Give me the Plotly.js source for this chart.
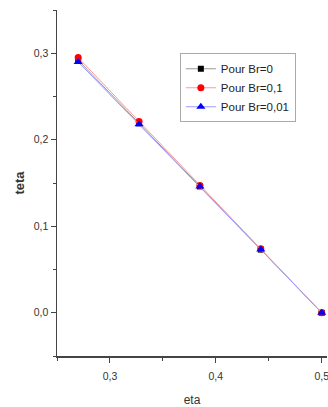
<!DOCTYPE html>
<html><head><meta charset="utf-8">
<script src="https://cdn.plot.ly/plotly-3.0.1.min.js"></script>
<style>html,body{margin:0;padding:0;background:#fff}#c{width:328px;height:407px}</style>
</head><body><div id="c"></div>
<script>
const eta = [0.27, 0.3275, 0.385, 0.4425, 0.5];
const tetaBr0 = [0.292, 0.219, 0.146, 0.073, 0.0];
const tetaBr01 = [0.295, 0.221, 0.147, 0.074, 0.0];
const tetaBr001 = [0.290, 0.218, 0.146, 0.073, 0.0];
const names = ['Pour Br=0', 'Pour Br=0,1', 'Pour Br=0,01'];

const traces = [
  {x: eta, y: tetaBr0, name: names[0], mode: 'lines+markers',
   line: {color: '#999999', width: 1}, marker: {symbol: 'square', size: 6, color: '#000000'}},
  {x: eta, y: tetaBr01, name: names[1], mode: 'lines+markers',
   line: {color: '#ff9a9a', width: 1}, marker: {symbol: 'circle', size: 7, color: '#ff0000'}},
  {x: eta, y: tetaBr001, name: names[2], mode: 'lines+markers',
   line: {color: '#9a9aff', width: 1}, marker: {symbol: 'triangle-up', size: 8, color: '#0000ff'}}
];
const layout = {
  width: 328, height: 407,
  margin: {l: 57, r: 1, t: 10, b: 51},
  separators: ', ',
  showlegend: true,
  paper_bgcolor: '#fff', plot_bgcolor: '#fff',
  font: {family: 'Liberation Sans, Arial, sans-serif', size: 10.5, color: '#333'},
  xaxis: {range: [0.25, 0.505], tickvals: [0.3, 0.4, 0.5], ticktext: ['0,3', '0,4', '0,5'],
    showgrid: false, zeroline: false, showline: true, linecolor: '#444', linewidth: 1.5,
    ticks: 'outside', ticklen: 5, tickcolor: '#444', ticklabeloverflow: 'allow', ticklabelstandoff: 5,
    minor: {tickvals: [0.25, 0.35, 0.45], ticks: 'outside', ticklen: 3, tickcolor: '#444'},
    title: {text: 'eta', font: {size: 12, color: '#333'}, standoff: 14}},
  yaxis: {range: [-0.05, 0.35], tickvals: [0, 0.1, 0.2, 0.3], ticktext: ['0,0', '0,1', '0,2', '0,3'],
    showgrid: false, zeroline: false, showline: true, linecolor: '#444', linewidth: 1.5,
    ticks: 'outside', ticklen: 5, tickcolor: '#444',
    minor: {tickvals: [-0.05, 0.05, 0.15, 0.25, 0.35], ticks: 'outside', ticklen: 3, tickcolor: '#444'},
    title: {text: '<b>teta</b>', font: {size: 13, color: '#333'}, standoff: 6}},
  legend: {x: 0.455, y: 0.875, xanchor: 'left', yanchor: 'top', bgcolor: '#fff',
    bordercolor: '#aaa', borderwidth: 1, font: {size: 11.5, color: '#222'},
    tracegroupgap: 0, itemwidth: 30}
};
Plotly.newPlot('c', traces, layout, {displayModeBar: false, staticPlot: true});
</script></body></html>
